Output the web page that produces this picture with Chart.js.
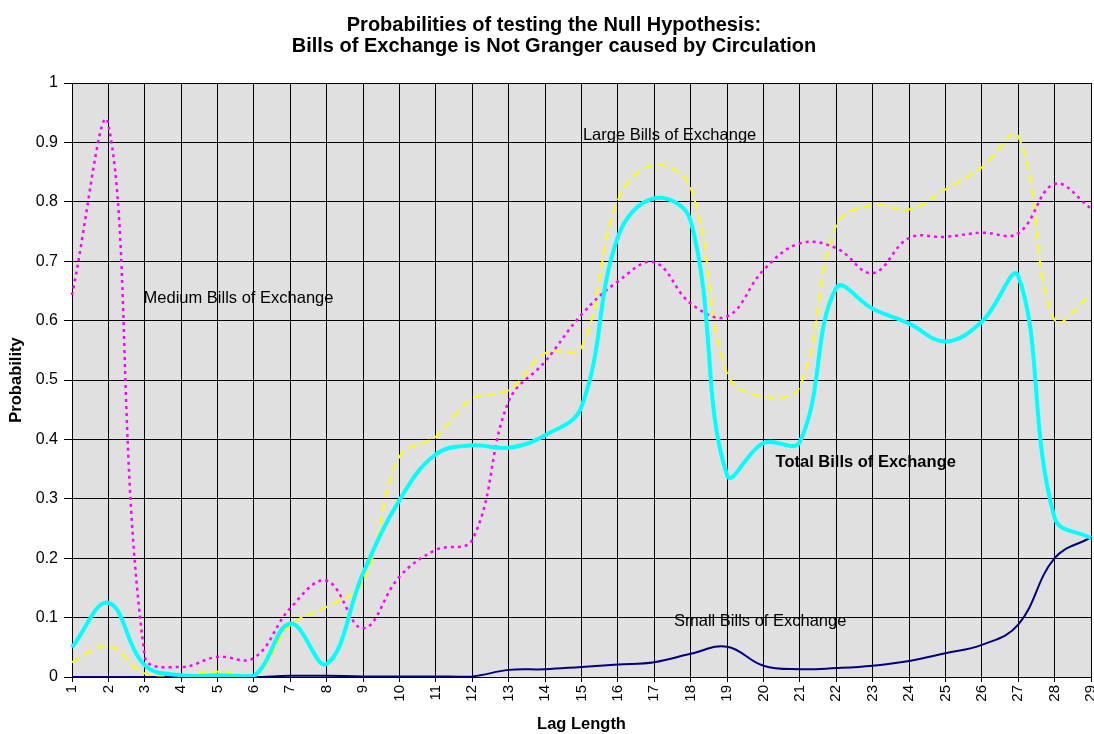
<!DOCTYPE html>
<html>
<head>
<meta charset="utf-8">
<title>Granger causality probabilities</title>
<script src="https://cdn.jsdelivr.net/npm/chart.js@4.4.1/dist/chart.umd.min.js"></script>
<style>
  html, body { margin: 0; padding: 0; background: #ffffff; }
  #wrap { width: 1094px; height: 734px; }
</style>
</head>
<body>
<div id="wrap"><canvas id="chart" width="1094" height="734"></canvas></div>
<script>
// Lag lengths on the x axis
const lags = ['1','2','3','4','5','6','7','8','9','10','11','12','13','14','15',
              '16','17','18','19','20','21','22','23','24','25','26','27','28','29'];

// Probability of the null hypothesis for each lag
const totalBills = [0.050, 0.125, 0.020, 0.003, 0.003, 0.002, 0.090, 0.022, 0.175, 0.298,
                    0.375, 0.390, 0.386, 0.407, 0.455, 0.741, 0.806, 0.768, 0.340, 0.394,
                    0.396, 0.655, 0.620, 0.595, 0.565, 0.598, 0.675, 0.268, 0.234];
const mediumBills = [0.643, 0.930, 0.035, 0.017, 0.034, 0.032, 0.116, 0.162, 0.082, 0.169,
                     0.214, 0.231, 0.464, 0.531, 0.610, 0.666, 0.698, 0.629, 0.607, 0.685,
                     0.730, 0.722, 0.680, 0.739, 0.741, 0.748, 0.747, 0.830, 0.789];
const largeBills = [0.025, 0.052, 0.006, 0.004, 0.009, 0.000, 0.087, 0.118, 0.160, 0.371,
                    0.405, 0.469, 0.483, 0.545, 0.555, 0.803, 0.862, 0.823, 0.511, 0.472,
                    0.489, 0.760, 0.795, 0.787, 0.821, 0.858, 0.910, 0.601, 0.643];
const smallBills = [0.000, 0.000, 0.000, 0.000, 0.000, 0.000, 0.002, 0.002, 0.001, 0.001,
                    0.001, 0.001, 0.012, 0.013, 0.017, 0.021, 0.025, 0.039, 0.051, 0.019,
                    0.013, 0.015, 0.019, 0.027, 0.040, 0.054, 0.088, 0.200, 0.235];

// Y axis tick labels
const yTickLabels = ['0', '0.1', '0.2', '0.3', '0.4', '0.5', '0.6', '0.7', '0.8', '0.9', '1'];

// Series names written inside the plot: [text, lag, probability, bold]
const seriesNotes = [
  ['Large Bills of Exchange', 17.42, 0.912, false],
  ['Medium Bills of Exchange', 5.575, 0.638, false],
  ['Total Bills of Exchange', 22.81, 0.362, true],
  ['Small Bills of Exchange', 19.91, 0.093, false]
];

const titleLines = ['Probabilities of testing the Null Hypothesis:',
                    'Bills of Exchange is Not Granger caused by Circulation'];

const FONT = '"Liberation Sans", Arial, Helvetica, sans-serif';

const plotBackground = {
  id: 'plotBackground',
  beforeDraw(chart) {
    const { ctx, chartArea: a } = chart;
    ctx.save();
    ctx.fillStyle = '#e0e0e0';
    ctx.fillRect(a.left, a.top, a.right - a.left, a.bottom - a.top);
    ctx.restore();
  }
};

const headline = {
  id: 'headline',
  afterDraw(chart) {
    const ctx = chart.ctx;
    ctx.save();
    ctx.fillStyle = '#000';
    ctx.font = 'bold 20px ' + FONT;
    ctx.textAlign = 'center';
    ctx.textBaseline = 'middle';
    titleLines.forEach((line, i) => ctx.fillText(line, 554, 25 + i * 21));
    ctx.restore();
  }
};

const notes = {
  id: 'notes',
  afterDatasetsDraw(chart) {
    const { ctx, scales } = chart;
    ctx.save();
    ctx.fillStyle = '#000';
    ctx.textAlign = 'center';
    ctx.textBaseline = 'middle';
    seriesNotes.forEach(([text, lag, p, bold]) => {
      ctx.font = (bold ? 'bold ' : '') + '16.5px ' + FONT;
      ctx.fillText(text, scales.x.getPixelForValue(lag - 1), scales.y.getPixelForValue(p));
    });
    ctx.restore();
  }
};

function series(label, values, color, width, dash) {
  return {
    label,
    data: values,
    borderColor: color,
    backgroundColor: color,
    borderWidth: width,
    borderDash: dash,
    pointRadius: 0,
    pointHoverRadius: 0,
    tension: 0.4,
    fill: false
  };
}

new Chart(document.getElementById('chart'), {
  type: 'line',
  data: {
    labels: lags,
    datasets: [
      series('Total Bills of Exchange', totalBills, '#00ffff', 4, []),
      series('Medium Bills of Exchange', mediumBills, '#ff00ff', 2.5, [3, 4]),
      series('Large Bills of Exchange', largeBills, '#ffff00', 2, [9, 5]),
      series('Small Bills of Exchange', smallBills, '#000080', 2, [])
    ]
  },
  options: {
    responsive: false,
    animation: false,
    events: [],
    layout: { padding: { top: 83, right: 3, left: 0, bottom: 0 } },
    plugins: {
      legend: { display: false },
      title: { display: false },
      tooltip: { enabled: false }
    },
    scales: {
      x: {
        type: 'category',
        offset: false,
        grid: { color: '#000', lineWidth: 1, tickLength: 5, tickColor: '#000' },
        border: { color: '#000', width: 1 },
        ticks: {
          autoSkip: false, minRotation: 90, maxRotation: 90,
          color: '#000', padding: 3,
          font: { family: FONT, size: 15 }
        },
        title: {
          display: true, text: 'Lag Length', color: '#000',
          font: { family: FONT, size: 16.5, weight: 'bold' },
          padding: { top: 0, bottom: 0 }
        },
        afterFit(scale) {
          scale.height = 57;
          scale.paddingRight = 0;
        }
      },
      y: {
        min: 0, max: 1,
        grid: { color: '#000', lineWidth: 1, tickLength: 8, tickColor: '#000' },
        border: { color: '#000', width: 1 },
        ticks: {
          stepSize: 0.1, color: '#000', padding: 6,
          font: { family: FONT, size: 16 },
          callback: (v, i) => yTickLabels[i]
        },
        title: {
          display: true, text: 'Probability', color: '#000',
          font: { family: FONT, size: 16.5, weight: 'bold' },
          padding: { top: 7, bottom: 0 }
        },
        afterFit(scale) {
          scale.width = 72;
        }
      }
    }
  },
  plugins: [plotBackground, headline, notes]
});
</script>
</body>
</html>
